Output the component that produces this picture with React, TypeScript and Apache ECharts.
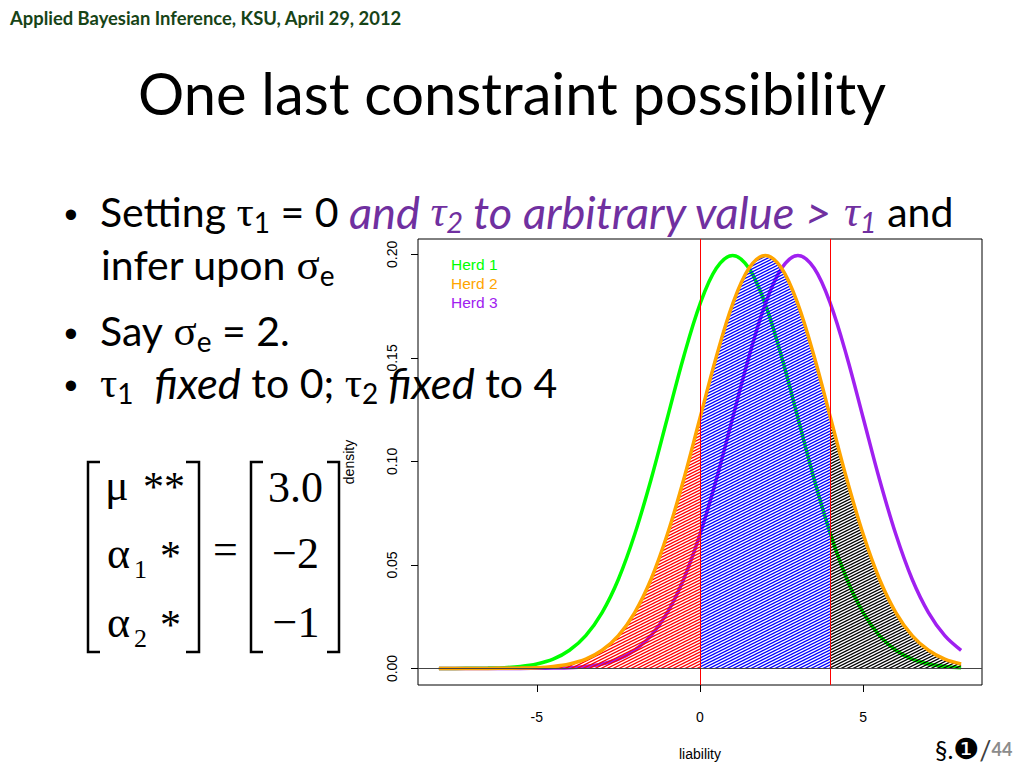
import React, { useEffect, useRef } from "react";
import * as echarts from "echarts";

// ---- data ----
const xs = [-8, -7.5, -7, -6.5, -6, -5.5, -5, -4.5, -4, -3.5, -3, -2.5, -2, -1.5, -1, -0.5, 0, 0.5, 1, 1.5, 2, 2.5, 3, 3.5, 4, 4.5, 5, 5.5, 6, 6.5, 7, 7.5, 8];
const herd1 = [0.0000, 0.0000, 0.0001, 0.0002, 0.0004, 0.0010, 0.0022, 0.0045, 0.0088, 0.0159, 0.0270, 0.0431, 0.0648, 0.0913, 0.1210, 0.1506, 0.1760, 0.1933, 0.1995, 0.1933, 0.1760, 0.1506, 0.1210, 0.0913, 0.0648, 0.0431, 0.0270, 0.0159, 0.0088, 0.0045, 0.0022, 0.0010, 0.0004];
const herd2 = [0.0000, 0.0000, 0.0000, 0.0000, 0.0001, 0.0002, 0.0004, 0.0010, 0.0022, 0.0045, 0.0088, 0.0159, 0.0270, 0.0431, 0.0648, 0.0913, 0.1210, 0.1506, 0.1760, 0.1933, 0.1995, 0.1933, 0.1760, 0.1506, 0.1210, 0.0913, 0.0648, 0.0431, 0.0270, 0.0159, 0.0088, 0.0045, 0.0022];
const herd3 = [0.0000, 0.0000, 0.0000, 0.0000, 0.0000, 0.0000, 0.0001, 0.0002, 0.0004, 0.0010, 0.0022, 0.0045, 0.0088, 0.0159, 0.0270, 0.0431, 0.0648, 0.0913, 0.1210, 0.1506, 0.1760, 0.1933, 0.1995, 0.1933, 0.1760, 0.1506, 0.1210, 0.0913, 0.0648, 0.0431, 0.0270, 0.0159, 0.0088];
const seriesNames = ["Herd 1", "Herd 2", "Herd 3"];
const seriesColors = ["#00ff00", "#ffa500", "#a020f0"];
const thresholds = [0, 4];
const hatchColors = ["#ff0000", "#0000ff", "#000000"];
const xTicks = [-5, 0, 5];
const yTicks = [0, 0.05, 0.1, 0.15, 0.2];
const xRange = [-8.64, 8.64];
const yRange = [-0.00798, 0.20745];

function makeHatch(color: string) {
  const w = 6;
  const h = 3;
  const c = document.createElement("canvas");
  c.width = w;
  c.height = h;
  const ctx = c.getContext("2d")!;
  ctx.strokeStyle = color;
  ctx.lineWidth = 1.25;
  for (let k = -1; k <= 2; k++) {
    ctx.beginPath();
    ctx.moveTo(-2, h * k + 1);
    ctx.lineTo(w + 2, h * k - (h / w) * (w + 2));
    ctx.stroke();
  }
  return { image: c, repeat: "repeat", imageWidth: w, imageHeight: h };
}

const serif = "'Liberation Serif', 'DejaVu Serif', serif";
const sans = "Lato, 'Noto Sans', sans-serif";
const arial = "'Liberation Sans', Arial, sans-serif";
const purple = "#7030a0";

const rich: any = {
  n: { fontFamily: sans, fontSize: 41, lineHeight: 50, verticalAlign: "middle", fill: "#000" },
  i: { fontFamily: sans, fontSize: 43.5, lineHeight: 50, verticalAlign: "middle", fontStyle: "italic", fill: "#000" },
  pi: { fontFamily: sans, fontSize: 45.2, lineHeight: 50, verticalAlign: "middle", fontStyle: "italic", fill: purple },
  g: { fontFamily: serif, fontSize: 43, lineHeight: 50, verticalAlign: "middle", fill: "#000" },
  gpi: { fontFamily: serif, fontSize: 44, lineHeight: 50, verticalAlign: "middle", fontStyle: "italic", fill: purple },
  s: { fontFamily: sans, fontSize: 28, lineHeight: 18, verticalAlign: "bottom", fill: "#000" },
  spi: { fontFamily: sans, fontSize: 29, lineHeight: 18, verticalAlign: "bottom", fontStyle: "italic", fill: purple },
};

function App() {
  const ref = useRef<HTMLDivElement>(null);
  useEffect(() => {
    const chart = echarts.init(ref.current!, null, { renderer: "svg" });
    const pts = (ys: number[]) => xs.map((x, i) => [x, ys[i]]);
    const segs = [
      xs.map((x, i) => [x, herd2[i]]).filter((p) => p[0] <= thresholds[0]),
      xs.map((x, i) => [x, herd2[i]]).filter((p) => p[0] >= thresholds[0] && p[0] <= thresholds[1]),
      xs.map((x, i) => [x, herd2[i]]).filter((p) => p[0] >= thresholds[1]),
    ];
    const curve = (name: string, data: number[][], color: string, z: number) => ({
      name,
      type: "line",
      data,
      smooth: 0.35,
      showSymbol: false,
      symbol: "none",
      z,
      lineStyle: { color, width: 3.5 },
      itemStyle: { color },
      emphasis: { disabled: true },
    });
    const series: any[] = [
      curve(seriesNames[0], pts(herd1), seriesColors[0], 2),
      curve(seriesNames[2], pts(herd3), seriesColors[2], 2),
      ...segs.map((d, i) => ({
        name: "hatch" + i,
        type: "line",
        data: d,
        smooth: 0.35,
        showSymbol: false,
        symbol: "none",
        z: 3,
        lineStyle: { opacity: 0, width: 0 },
        areaStyle: { color: makeHatch(hatchColors[i]), opacity: 1 },
        emphasis: { disabled: true },
      })),
      curve(seriesNames[1], pts(herd2), seriesColors[1], 4),
      {
        name: "refs",
        type: "line",
        data: [],
        z: 5,
        markLine: {
          silent: true,
          symbol: ["none", "none"],
          label: { show: false },
          emphasis: { disabled: true },
          data: [
            ...thresholds.map((t) => ({ xAxis: t, lineStyle: { color: "#ff0000", width: 1, type: "solid" } })),
            { yAxis: 0, lineStyle: { color: "#444444", width: 1, type: "solid" } },
          ],
        },
      },
    ];

    const graphic: any[] = [
      {
        type: "text", x: 10, y: 18, z: 100,
        style: { text: "Applied Bayesian Inference, KSU, April 29, 2012", fill: "#174417", fontFamily: sans, fontWeight: "bold", fontSize: 18.4, align: "left", verticalAlign: "middle" },
      },
      {
        type: "text", x: 512, y: 92, z: 100,
        style: { text: "One last constraint possibility", fill: "#000", fontFamily: sans, fontSize: 57.8, align: "center", verticalAlign: "middle" },
      },
      ...[215, 334, 386].map((y) => ({
        type: "text", x: 71, y, z: 100,
        style: { text: "•", fill: "#000", fontFamily: arial, fontSize: 38, align: "center", verticalAlign: "middle" },
      })),
      {
        type: "text", x: 100, y: 186, z: 100,
        style: { text: "{n|Setting }{g|τ}{s|1}{n| = 0 }{pi|and }{gpi|τ}{spi|2}{pi| to arbitrary value > }{gpi|τ}{spi|1}{n| and}", rich, align: "left", verticalAlign: "top" },
      },
      {
        type: "text", x: 101, y: 239, z: 100,
        style: { text: "{n|infer upon }{g|σ}{s|e}", rich, align: "left", verticalAlign: "top" },
      },
      {
        type: "text", x: 100, y: 305, z: 100,
        style: { text: "{n|Say }{g|σ}{s|e}{n| = 2.}", rich, align: "left", verticalAlign: "top" },
      },
      {
        type: "text", x: 100, y: 357, z: 100,
        style: { text: "{g|τ}{s|1}{n|  }{i|fixed}{n| to 0; }{g|τ}{s|2}{i| fixed}{n| to 4}", rich, align: "left", verticalAlign: "top" },
      },
      // matrix brackets
      ...[
        [[100, 462], [88, 462], [88, 652], [100, 652]],
        [[186, 462], [199, 462], [199, 652], [186, 652]],
        [[263, 462], [251, 462], [251, 652], [263, 652]],
        [[327, 462], [339, 462], [339, 652], [327, 652]],
      ].map((p) => ({ type: "polyline", z: 100, shape: { points: p }, style: { stroke: "#000", lineWidth: 2.5, fill: null } })),
      ...[
        { t: "μ", x: 105, y: 485, s: 44, a: "left" },
        { t: "**", x: 143, y: 487, s: 42, a: "left" },
        { t: "α", x: 107, y: 553, s: 44, a: "left" },
        { t: "1", x: 134, y: 569, s: 26, a: "left" },
        { t: "*", x: 160, y: 556, s: 42, a: "left" },
        { t: "α", x: 107, y: 622, s: 44, a: "left" },
        { t: "2", x: 134, y: 638, s: 26, a: "left" },
        { t: "*", x: 160, y: 625, s: 42, a: "left" },
        { t: "=", x: 225.5, y: 549, s: 44, a: "center" },
        { t: "3.0", x: 295.5, y: 487, s: 44, a: "center" },
        { t: "−2", x: 295.5, y: 553, s: 44, a: "center" },
        { t: "−1", x: 296, y: 622, s: 44, a: "center" },
      ].map((m) => ({
        type: "text", x: m.x, y: m.y, z: 100,
        style: { text: m.t, fill: "#000", fontFamily: serif, fontSize: m.s, align: m.a, verticalAlign: "middle" },
      })),
      {
        type: "text", x: 935, y: 749, z: 100,
        style: {
          text: "{a|§.}{b|❶}{c|/}{d|44}",
          align: "left",
          verticalAlign: "middle",
          rich: {
            a: { fontFamily: sans, fontSize: 25, fill: "#000", verticalAlign: "middle", lineHeight: 30 },
            b: { fontFamily: "'DejaVu Sans', sans-serif", fontSize: 29, fill: "#000", verticalAlign: "middle", lineHeight: 30 },
            c: { fontFamily: sans, fontSize: 27, fill: "#404040", verticalAlign: "middle", lineHeight: 30 },
            d: { fontFamily: sans, fontSize: 18, fontWeight: "bold", fill: "#8c8c8c", verticalAlign: "middle", lineHeight: 30 },
          },
        },
      },
    ];

    chart.setOption({
      animation: false,
      backgroundColor: "#ffffff",
      grid: { left: 418, top: 239, width: 564, height: 446, show: true, borderColor: "#000", borderWidth: 1, backgroundColor: "transparent", containLabel: false },
      legend: {
        data: seriesNames.map((n, i) => ({ name: n, textStyle: { color: seriesColors[i] } })),
        orient: "vertical",
        left: 441,
        top: 251,
        itemGap: 3,
        itemWidth: 0,
        itemHeight: 0,
        icon: "rect",
        selectedMode: false,
        textStyle: { fontFamily: arial, fontSize: 15.5 },
      },
      xAxis: {
        type: "value",
        min: xRange[0],
        max: xRange[1],
        name: "liability",
        nameLocation: "middle",
        nameGap: 62,
        nameTextStyle: { fontFamily: arial, fontSize: 14, color: "#000" },
        axisLine: { show: false, onZero: false },
        splitLine: { show: false },
        axisTick: { show: true, length: 7, customValues: xTicks, lineStyle: { color: "#000", width: 1 } },
        axisLabel: { show: true, customValues: xTicks, margin: 25, color: "#000", fontFamily: arial, fontSize: 14, formatter: (v: number) => String(v) },
      },
      yAxis: {
        type: "value",
        min: yRange[0],
        max: yRange[1],
        name: "density",
        nameLocation: "middle",
        nameGap: 62,
        nameTextStyle: { fontFamily: arial, fontSize: 14, color: "#000" },
        axisLine: { show: false, onZero: false },
        splitLine: { show: false },
        axisTick: { show: true, length: 7, customValues: yTicks, lineStyle: { color: "#000", width: 1 } },
        axisLabel: { show: true, customValues: yTicks, rotate: 90, margin: 19, color: "#000", fontFamily: arial, fontSize: 14, formatter: (v: number) => v.toFixed(2) },
      },
      series,
      graphic,
    });
    return () => chart.dispose();
  }, []);
  return <div ref={ref} style={{ position: "absolute", left: 0, top: 0, width: 1024, height: 768, background: "#fff" }} />;
}

export default App;
